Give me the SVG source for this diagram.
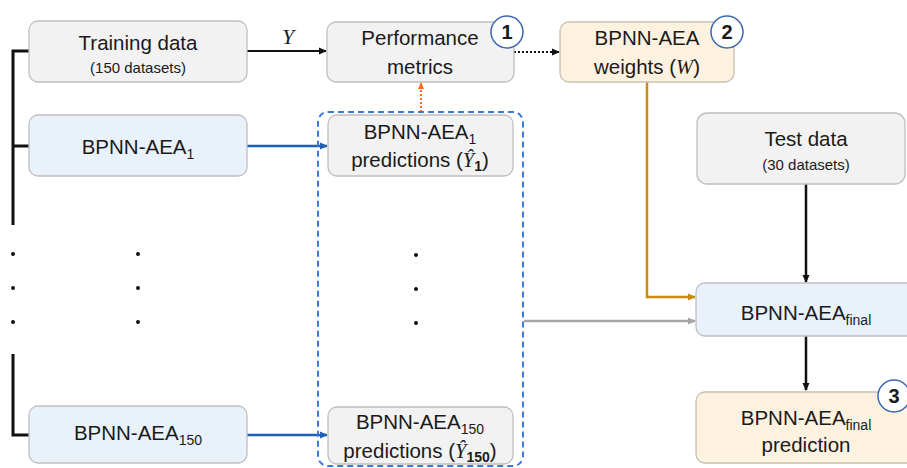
<svg xmlns="http://www.w3.org/2000/svg" width="907" height="468" viewBox="0 0 907 468">
<style>
.gray{fill:#f2f2f2;stroke:#bfbfbf;stroke-width:1.3}
.blue{fill:#e9f1fb;stroke:#bfbfbf;stroke-width:1.3}
.cream{fill:#fdf2df;stroke:#c8c0b0;stroke-width:1.3}
.t{font-family:"Liberation Sans",Arial,sans-serif;font-size:20.5px;fill:#1a1a1a;text-anchor:middle}
.s{font-family:"Liberation Sans",Arial,sans-serif;font-size:15px;fill:#1a1a1a;text-anchor:middle}
.m{font-family:"Liberation Serif","Times New Roman",serif;font-style:italic}
.num{fill:#fff;stroke:#3a66b0;stroke-width:1.5}
.nt{font-family:"Liberation Sans",Arial,sans-serif;font-size:20px;font-weight:bold;fill:#1a1a1a;text-anchor:middle}
.dot{fill:#111}
</style>
<defs>
<marker id="ak" markerWidth="8" markerHeight="8" refX="7" refY="4" orient="auto" markerUnits="userSpaceOnUse"><path d="M0,0.5 L8,4 L0,7.5 z" fill="#111"/></marker>
<marker id="ab" markerWidth="8" markerHeight="8" refX="7" refY="4" orient="auto" markerUnits="userSpaceOnUse"><path d="M0,0.5 L8,4 L0,7.5 z" fill="#1f5fb4"/></marker>
<marker id="ao" markerWidth="8" markerHeight="8" refX="7" refY="4" orient="auto" markerUnits="userSpaceOnUse"><path d="M0,0.5 L8,4 L0,7.5 z" fill="#c98a10"/></marker>
<marker id="ag" markerWidth="8" markerHeight="8" refX="7" refY="4" orient="auto" markerUnits="userSpaceOnUse"><path d="M0,0.5 L8,4 L0,7.5 z" fill="#a6a6a6"/></marker>
<marker id="ar" markerWidth="7" markerHeight="7" refX="6" refY="3.5" orient="auto" markerUnits="userSpaceOnUse"><path d="M0,0.5 L7,3.5 L0,6.5 z" fill="#f07020"/></marker>
</defs>
<rect width="907" height="468" fill="#fff"/>

<g id="connectors" fill="none">
<path d="M29,51 H13 V225" stroke="#111" stroke-width="3"/>
<path d="M13,146 H29" stroke="#111" stroke-width="3"/>
<path d="M13,354 V435 H29" stroke="#111" stroke-width="3"/>
<path d="M247,51 H326" stroke="#111" stroke-width="2" marker-end="url(#ak)"/>
<path d="M247,146 H327" stroke="#1f5fb4" stroke-width="2.5" marker-end="url(#ab)"/>
<path d="M247,435 H327" stroke="#1f5fb4" stroke-width="2.5" marker-end="url(#ab)"/>
<path d="M514,52 H559" stroke="#111" stroke-width="2" stroke-dasharray="2,2" marker-end="url(#ak)"/>
<path d="M421,112 V83" stroke="#f07020" stroke-width="2" stroke-dasharray="2,2" marker-end="url(#ar)"/>
<path d="M647,82 V297 H695" stroke="#c98a10" stroke-width="2.5" marker-end="url(#ao)"/>
<path d="M524,321 H695" stroke="#a6a6a6" stroke-width="2.5" marker-end="url(#ag)"/>
<path d="M806,184 V282" stroke="#111" stroke-width="2.5" marker-end="url(#ak)"/>
<path d="M806,336 V390" stroke="#111" stroke-width="2.5" marker-end="url(#ak)"/>
<rect x="318" y="112" width="205" height="354" rx="10" stroke="#3b7ad8" stroke-width="2" stroke-dasharray="6,4"/>
<text x="288" y="44" class="t m" style="font-size:22px">Y</text>
</g>

<g id="training">
<rect class="gray" x="29" y="21" width="218" height="61" rx="9"/>
<text class="t" x="138" y="50">Training data</text>
<text class="s" x="138" y="73">(150 datasets)</text>
</g>

<g id="bpnn1">
<rect class="blue" x="29" y="115" width="218" height="61" rx="9"/>
<text class="t" x="138" y="154">BPNN-AEA<tspan font-size="14" dy="5">1</tspan></text>
</g>

<g id="bpnn150">
<rect class="blue" x="29" y="406" width="218" height="57" rx="9"/>
<text class="t" x="138" y="440">BPNN-AEA<tspan font-size="14" dy="5">150</tspan></text>
</g>

<g id="dots">
<circle class="dot" cx="13" cy="254" r="2"/><circle class="dot" cx="13" cy="288" r="2"/><circle class="dot" cx="13" cy="322" r="2"/>
<circle class="dot" cx="138" cy="254" r="2"/><circle class="dot" cx="138" cy="288" r="2"/><circle class="dot" cx="138" cy="322" r="2"/>
<circle class="dot" cx="416" cy="255" r="2"/><circle class="dot" cx="416" cy="289" r="2"/><circle class="dot" cx="416" cy="323" r="2"/>
</g>

<g id="perf">
<rect class="gray" x="327" y="22" width="187" height="60" rx="9"/>
<text class="t" x="420" y="45">Performance</text>
<text class="t" x="420" y="74">metrics</text>
<circle class="num" cx="507" cy="32" r="16"/>
<text class="nt" x="507" y="39">1</text>
</g>

<g id="pred1">
<rect class="gray" x="328" y="115" width="185" height="61" rx="9"/>
<text class="t" x="420" y="139">BPNN-AEA<tspan font-size="14" dy="5">1</tspan></text>
<text class="t" x="420" y="167">predictions (<tspan class="m">Ŷ</tspan><tspan font-size="14" font-weight="bold" dy="4">1</tspan><tspan dy="-4">)</tspan></text>
</g>

<g id="pred150">
<rect class="gray" x="328" y="407" width="185" height="57" rx="9"/>
<text class="t" x="420" y="429">BPNN-AEA<tspan font-size="14" dy="5">150</tspan></text>
<text class="t" x="420" y="458">predictions (<tspan class="m">Ŷ</tspan><tspan font-size="14" font-weight="bold" dy="4">150</tspan><tspan dy="-4">)</tspan></text>
</g>

<g id="weights">
<rect class="cream" x="560" y="22" width="174" height="60" rx="9"/>
<text class="t" x="647" y="45">BPNN-AEA</text>
<text class="t" x="647" y="74">weights (<tspan class="m">W</tspan>)</text>
<circle class="num" cx="727" cy="32" r="16"/>
<text class="nt" x="727" y="39">2</text>
</g>

<g id="test">
<rect class="gray" x="697" y="113" width="208" height="71" rx="10"/>
<text class="t" x="806" y="146">Test data</text>
<text class="s" x="806" y="170">(30 datasets)</text>
</g>

<g id="final">
<rect class="blue" x="696" y="283" width="220" height="53" rx="9"/>
<text class="t" x="806" y="320">BPNN-AEA<tspan font-size="14" dy="5">final</tspan></text>
</g>

<g id="finalpred">
<rect class="cream" x="696" y="392" width="220" height="71" rx="9"/>
<text class="t" x="806" y="425">BPNN-AEA<tspan font-size="14" dy="5">final</tspan></text>
<text class="t" x="806" y="452">prediction</text>
<circle class="num" cx="894" cy="396" r="16"/>
<text class="nt" x="894" y="403">3</text>
</g>
</svg>
